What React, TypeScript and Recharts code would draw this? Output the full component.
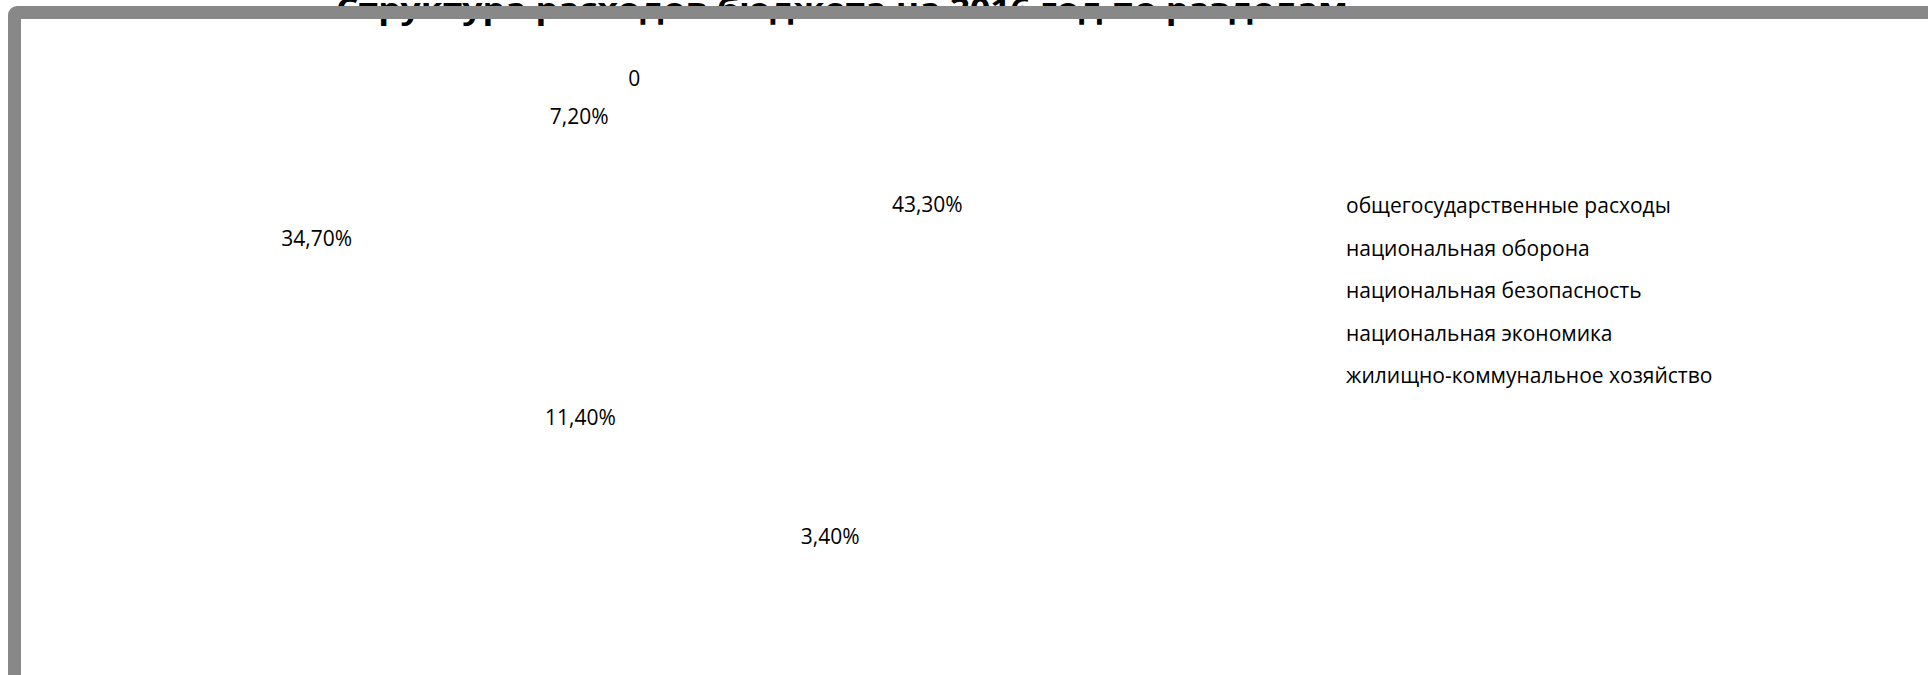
import { PieChart, Pie, Legend } from "recharts";

// budget expenditure structure, share of total, %
const categories = [
  "общегосударственные расходы",
  "национальная оборона",
  "национальная безопасность",
  "национальная экономика",
  "жилищно-коммунальное хозяйство",
  "",
];
const shares = [43.3, 3.4, 11.4, 34.7, 7.2, 0];

const title = "Структура расходов бюджета на 2016 год по разделам";

// where each data label sits: distance (x outer radius) and turn in degrees clockwise
const labelDistance = [1.52, 1.72, 0.83, 1.56, 0.75, 0.9];
const labelTurn = [2, -18, 8, 2, -6, 2];

const data = categories.map((name, i) => ({ name, share: shares[i] }));

const FONT = "'Open Sans', sans-serif";

const fmt = (v: number) => (v === 0 ? "0" : v.toFixed(2).replace(".", ",") + "%");

const renderLabel = (p: any) => {
  const i = p.index;
  const d = p.outerRadius * labelDistance[i];
  const a = ((90 - p.midAngle + labelTurn[i]) * Math.PI) / 180;
  const x = p.cx + d * Math.sin(a);
  const y = p.cy - d * Math.cos(a);
  return (
    <text x={x} y={y} dy="0.36em" textAnchor="middle" fill="#000" fontSize={21} fontFamily={FONT}>
      {fmt(p.value)}
    </text>
  );
};

// keep the sheet order, skip the unnamed row
const renderLegend = (props: any) => {
  const items = (props.payload || [])
    .filter((e: any) => e.value)
    .sort((a: any, b: any) => categories.indexOf(a.value) - categories.indexOf(b.value));
  return (
    <div style={{ fontFamily: FONT, fontSize: 21, lineHeight: "42.5px", color: "#000", whiteSpace: "nowrap" }}>
      {items.map((e: any) => (
        <div key={e.value}>{e.value}</div>
      ))}
    </div>
  );
};

export default function App() {
  return (
    <div style={{ position: "absolute", left: 0, top: 0, width: 1928, height: 675, overflow: "hidden", background: "#fff" }}>
      <div style={{ position: "absolute", left: 0, top: 0 }}>
        <PieChart width={1928} height={675} margin={{ top: 0, right: 0, bottom: 0, left: 0 }}>
          <Pie
            data={data}
            dataKey="share"
            nameKey="name"
            cx={628}
            cy={258}
            outerRadius={200}
            startAngle={90}
            endAngle={-270}
            fill="none"
            stroke="none"
            label={renderLabel}
            labelLine={false}
            isAnimationActive={false}
          />
          <Legend
            layout="vertical"
            align="right"
            verticalAlign="top"
            content={renderLegend}
            wrapperStyle={{ left: 1346, top: 184, width: "auto", right: "auto" }}
          />
        </PieChart>
      </div>

      <svg width={1928} height={40} style={{ position: "absolute", left: 0, top: 0 }}>
        <text
          x={842}
          y={18.5}
          textAnchor="middle"
          textLength={1012}
          lengthAdjust="spacingAndGlyphs"
          fontFamily={FONT}
          fontWeight="bold"
          fontSize={28}
          fill="#000"
        >
          {title}
        </text>
      </svg>

      {/* chart area frame, runs off the right and bottom */}
      <div
        style={{
          position: "absolute",
          left: 8,
          top: 6,
          width: 1960,
          height: 720,
          border: "13px solid #888888",
          borderRadius: 9,
          boxSizing: "border-box",
          pointerEvents: "none",
        }}
      />
    </div>
  );
}
